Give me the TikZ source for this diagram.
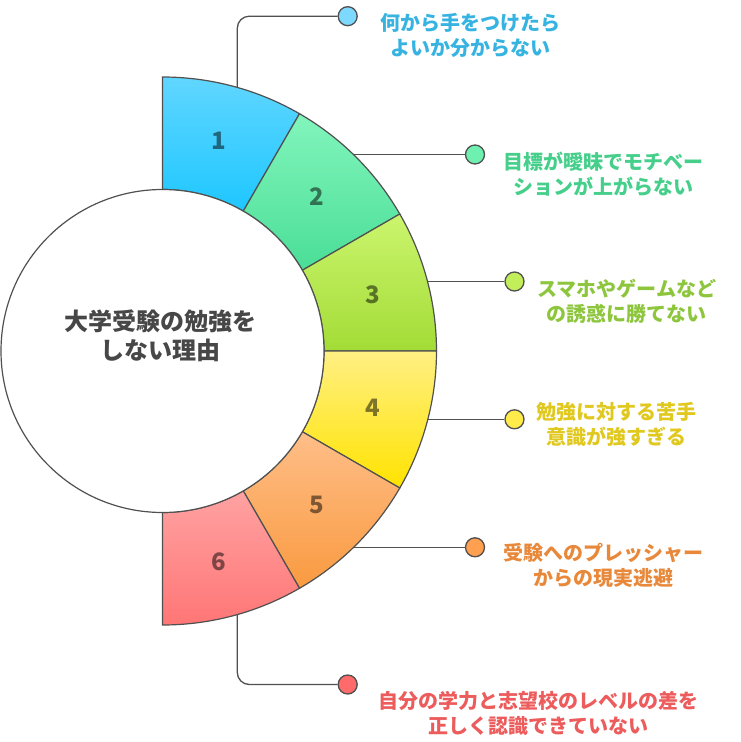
\documentclass[tikz,border=0pt]{standalone}
\usepackage{fontspec}
\setmainfont{Noto Sans CJK JP}
\definecolor{edge}{HTML}{505050}
\definecolor{hubtext}{HTML}{474747}
\definecolor{sAt}{HTML}{60D6FF}\definecolor{sAb}{HTML}{1EC7FF}
\definecolor{sBt}{HTML}{82F5BC}\definecolor{sBb}{HTML}{4ADE97}
\definecolor{sCt}{HTML}{CBF56E}\definecolor{sCb}{HTML}{A3DC36}
\definecolor{sDt}{HTML}{FFF084}\definecolor{sDb}{HTML}{FFE300}
\definecolor{sEt}{HTML}{FFBE88}\definecolor{sEb}{HTML}{F99A40}
\definecolor{sFt}{HTML}{FFA2A2}\definecolor{sFb}{HTML}{FF7676}
\definecolor{dA}{HTML}{7DD9FF}\definecolor{tA}{HTML}{36B3E0}
\definecolor{dB}{HTML}{6EF0B0}\definecolor{tB}{HTML}{45CF8B}
\definecolor{dC}{HTML}{C2EE5A}\definecolor{tC}{HTML}{8DC63D}
\definecolor{dD}{HTML}{FFEC4A}\definecolor{tD}{HTML}{E0C81E}
\definecolor{dE}{HTML}{FFA050}\definecolor{tE}{HTML}{E8883A}
\definecolor{dF}{HTML}{FF6B6B}\definecolor{tF}{HTML}{EC5C5C}
\tikzset{
  seg/.style={draw=edge, line width=1.2pt},
  num/.style={font=\fontsize{24}{24}\selectfont\bfseries, text=black, text opacity=0.5},
  dot/.style={circle, draw=edge, line width=1.3pt, minimum size=19pt, inner sep=0pt},
  lbl/.style={font=\fontsize{20}{25}\selectfont\bfseries, align=center, inner sep=0pt},
  conn/.style={draw=edge, line width=1.3pt, rounded corners=12pt},
  hub/.style={circle, draw=edge, line width=1.2pt, fill=white, minimum size=323pt, inner sep=0pt},
  hubtxt/.style={font=\fontsize{24}{28.5}\selectfont\bfseries, text=hubtext, align=center, inner sep=0pt}
}
\begin{document}
\begin{tikzpicture}[x=1pt,y=1pt]
\useasboundingbox (-162.5,-391) rectangle (577.5,351);
% connector start points on the outer arc
\coordinate (s1) at (74.8,263.6);
\coordinate (s2) at (190.7,196.5);
\coordinate (s3) at (265.0,69.5);
\coordinate (s4) at (265.4,-68.3);
\coordinate (s5) at (191.2,-196.3);
\coordinate (s6) at (74.8,-263.6);
% dots
\node[dot, fill=dA] (d1) at (185.2,334.8) {};
\node[dot, fill=dB] (d2) at (312.5,196.5) {};
\node[dot, fill=dC] (d3) at (352.0,69.5) {};
\node[dot, fill=dD] (d4) at (352.0,-68.3) {};
\node[dot, fill=dE] (d5) at (312.5,-196.3) {};
\node[dot, fill=dF] (d6) at (185.2,-333.5) {};
% connectors
\draw[conn] (s1) |- (d1);
\draw[conn] (s2) -- (d2);
\draw[conn] (s3) -- (d3);
\draw[conn] (s4) -- (d4);
\draw[conn] (s5) -- (d5);
\draw[conn] (s6) |- (d6);
% segments
\foreach \k/\ct/\cb in {1/sAt/sAb,2/sBt/sBb,3/sCt/sCb,4/sDt/sDb,5/sEt/sEb,6/sFt/sFb}{
  \pgfmathsetmacro\a{90-30*(\k-1)}
  \pgfmathsetmacro\b{\a-30}
  \pgfmathsetmacro\m{\a-15}
  \shadedraw[seg, top color=\ct, bottom color=\cb]
    (\a:161.5) -- (\a:274) arc[start angle=\a, end angle=\b, radius=274]
    -- (\b:161.5) arc[start angle=\b, end angle=\a, radius=161.5] -- cycle;
  \node[num] (n\k) at (\m:217.75) {\k};
}
% hub
\node[hub] (hub) at (0,0) {};
\node[hubtxt] (hubtext) at (-1.7,15) {大学受験の勉強を\\しない理由};
% labels
\node[lbl, text=tA] (t1) at (307.5,315.5) {何から手をつけたら\\よいか分からない};
\node[lbl, text=tB] (t2) at (440.5,176.8) {目標が曖昧でモチベー\\ションが上がらない};
\node[lbl, text=tC] (t3) at (464.2,50.1) {スマホやゲームなど\\の誘惑に勝てない};
\node[lbl, text=tD] (t4) at (454.2,-73.2) {勉強に対する苦手\\意識が強すぎる};
\node[lbl, text=tE] (t5) at (440.5,-214.8) {受験へのプレッシャー\\からの現実逃避};
\node[lbl, text=tF] (t6) at (375.5,-362.4) {自分の学力と志望校のレベルの差を\\正しく認識できていない};
\end{tikzpicture}
\end{document}
